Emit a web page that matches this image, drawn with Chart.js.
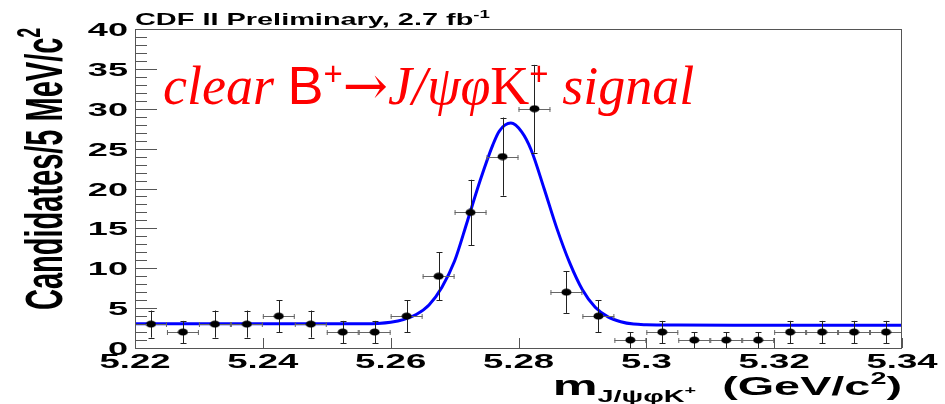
<!DOCTYPE html>
<html>
<head>
<meta charset="utf-8">
<script src="https://cdn.jsdelivr.net/npm/chart.js@4.4.1/dist/chart.umd.min.js"></script>
<style>
  html, body { margin: 0; padding: 0; background: #fff; }
  #wrap { width: 945px; height: 404px; }
</style>
</head>
<body>
<div id="wrap"><canvas id="massChart" width="945" height="404"></canvas></div>
<script>
// 5 MeV bins of the J/psi phi K+ invariant mass
const binCenters = [5.2225, 5.2275, 5.2325, 5.2375, 5.2425, 5.2475, 5.2525, 5.2575,
  5.2625, 5.2675, 5.2725, 5.2775, 5.2825, 5.2875, 5.2925, 5.2975,
  5.3025, 5.3075, 5.3125, 5.3175, 5.3225, 5.3275, 5.3325, 5.3375];
const candidates = [3, 2, 3, 3, 4, 3, 2, 2, 4, 9, 17, 24, 30, 7, 4, 1, 2, 1, 1, 1, 2, 2, 2, 2];
const candErrors = [1.7, 1.4, 1.7, 1.7, 2.0, 1.7, 1.4, 1.4, 2.0, 3.0, 4.1, 4.9, 5.5, 2.6, 2.0, 1.0,
  1.4, 1.0, 1.0, 1.0, 1.4, 1.4, 1.4, 1.4];
const halfBin = 0.0025;

// fitted signal + background curve
const fitMass = [5.22, 5.24, 5.25, 5.256, 5.258, 5.26, 5.262, 5.264, 5.266, 5.268, 5.27,
  5.272, 5.274, 5.276, 5.277, 5.2788, 5.2805, 5.282, 5.284, 5.286, 5.288, 5.29, 5.292, 5.294,
  5.296, 5.298, 5.3, 5.305, 5.32, 5.34];
const fitValues = [3.05, 3.05, 3.05, 3.05, 3.08, 3.22, 3.55, 4.2, 5.4, 7.6, 10.9,
  15.9, 21.0, 25.5, 27.2, 28.2, 27.1, 24.8, 20.0, 15.0, 10.7, 7.3, 5.1, 3.9,
  3.3, 3.0, 2.92, 2.88, 2.86, 2.85];

const xTicks = [5.22, 5.24, 5.26, 5.28, 5.3, 5.32, 5.34];
const xTickLabels = ['5.22', '5.24', '5.26', '5.28', '5.3', '5.32', '5.34'];
const yMajorTicks = [0, 5, 10, 15, 20, 25, 30, 35, 40];
const yTickLabels = ['0', '5', '10', '15', '20', '25', '30', '35', '40'];

const SANS = '"Liberation Sans", Arial, sans-serif';
const SERIF = '"Liberation Serif", "Times New Roman", serif';

// flattened black dot used as marker
const dot = document.createElement('canvas');
dot.width = 11; dot.height = 8;
(function () {
  const c = dot.getContext('2d');
  c.fillStyle = '#000';
  c.beginPath();
  c.ellipse(5.5, 4, 5, 3.6, 0, 0, Math.PI * 2);
  c.fill();
})();

// draws runs of text with their own font / vertical offset, starting at local x=0
function richWidth(ctx, parts) {
  let w = 0;
  parts.forEach(p => { ctx.font = p.font; w += ctx.measureText(p.text).width; });
  return w;
}
function drawRich(ctx, parts) {
  let x = 0;
  parts.forEach(p => {
    ctx.font = p.font;
    ctx.fillText(p.text, x, p.dy || 0);
    x += ctx.measureText(p.text).width;
  });
}

const errorBars = {
  id: 'errorBars',
  afterDatasetDraw(chart, args) {
    if (args.index !== 1) return;
    const { ctx, scales: { x, y } } = chart;
    ctx.save();
    ctx.lineWidth = 1;
    binCenters.forEach((m, i) => {
      const px = Math.round(x.getPixelForValue(m)) + 0.5;
      const py = Math.round(y.getPixelForValue(candidates[i])) + 0.5;
      const x0 = x.getPixelForValue(m - halfBin), x1 = x.getPixelForValue(m + halfBin);
      const y0 = y.getPixelForValue(candidates[i] - candErrors[i]);
      const y1 = y.getPixelForValue(candidates[i] + candErrors[i]);
      ctx.strokeStyle = '#666';
      ctx.beginPath();
      ctx.moveTo(x0, py); ctx.lineTo(x1, py);
      ctx.moveTo(x0 + 0.5, py - 2.5); ctx.lineTo(x0 + 0.5, py + 2.5);
      ctx.moveTo(x1 - 0.5, py - 2.5); ctx.lineTo(x1 - 0.5, py + 2.5);
      ctx.stroke();
      ctx.strokeStyle = '#222';
      ctx.beginPath();
      ctx.moveTo(px, y0); ctx.lineTo(px, y1);
      ctx.moveTo(px - 3, Math.round(y0) + 0.5); ctx.lineTo(px + 3, Math.round(y0) + 0.5);
      ctx.moveTo(px - 3, Math.round(y1) + 0.5); ctx.lineTo(px + 3, Math.round(y1) + 0.5);
      ctx.stroke();
    });
    ctx.restore();
  }
};

const frameAndLabels = {
  id: 'frameAndLabels',
  afterDraw(chart) {
    const { ctx, chartArea: a, scales: { x, y } } = chart;
    ctx.save();
    // frame
    ctx.strokeStyle = '#555';
    ctx.lineWidth = 1;
    ctx.strokeRect(a.left + 0.5, a.top + 0.5, a.right - a.left - 1, a.bottom - a.top);

    // y ticks: major every 5, minor every 1
    ctx.beginPath();
    for (let v = 0; v <= 40; v++) {
      const py = Math.round(y.getPixelForValue(v)) + 0.5;
      const len = v % 5 === 0 ? 22 : 12;
      ctx.moveTo(a.left, py); ctx.lineTo(a.left + len, py);
    }
    // x ticks
    xTicks.forEach(m => {
      const px = Math.round(x.getPixelForValue(m)) + 0.5;
      ctx.moveTo(px, a.bottom); ctx.lineTo(px, a.bottom - 10);
    });
    ctx.stroke();

    ctx.fillStyle = '#000';
    ctx.textBaseline = 'alphabetic';
    // y tick labels
    yMajorTicks.forEach((v, i) => {
      const py = y.getPixelForValue(v);
      ctx.save();
      ctx.translate(a.left - 7, py + 7);
      ctx.scale(1.9, 1);
      ctx.font = 'bold 19px ' + SANS;
      ctx.textAlign = 'right';
      ctx.fillText(yTickLabels[i], 0, 0);
      ctx.restore();
    });
    // x tick labels
    xTicks.forEach((m, i) => {
      ctx.save();
      ctx.translate(x.getPixelForValue(m), a.bottom + 20);
      ctx.scale(1.74, 1);
      ctx.font = 'bold 21px ' + SANS;
      ctx.textAlign = 'center';
      ctx.fillText(xTickLabels[i], 0, 0);
      ctx.restore();
    });
    ctx.textAlign = 'left';

    // header
    const head = [
      { text: 'CDF II Preliminary, 2.7 fb', font: 'bold 17px ' + SANS },
      { text: '-1', font: 'bold 11px ' + SANS, dy: -7 }
    ];
    ctx.save();
    ctx.translate(a.left, 25);
    ctx.scale(1.7, 1);
    drawRich(ctx, head);
    ctx.restore();

    // x title, right aligned at the axis end
    const xTitle = [
      { text: 'm', font: 'bold 28px ' + SANS },
      { text: 'J/\u03c8\u03c6K', font: 'bold 16px ' + SANS, dy: 7 },
      { text: '+', font: 'bold 11px ' + SANS, dy: -1 },
      { text: '  (GeV/c', font: 'bold 26px ' + SANS },
      { text: '2', font: 'bold 16px ' + SANS, dy: -11 },
      { text: ')', font: 'bold 26px ' + SANS }
    ];
    ctx.save();
    const sx = 1.8;
    ctx.translate(a.right - richWidth(ctx, xTitle) * sx, 395);
    ctx.scale(sx, 1);
    drawRich(ctx, xTitle);
    ctx.restore();

    // y title, rotated
    const yTitle = [
      { text: 'Candidates/5 MeV/c', font: 'bold 29px ' + SANS },
      { text: '2', font: 'bold 18px ' + SANS, dy: -12 }
    ];
    ctx.save();
    ctx.translate(62, 310);
    ctx.rotate(-Math.PI / 2);
    ctx.scale(1, 1.8);
    drawRich(ctx, yTitle);
    ctx.restore();

    // signal annotation
    const note = [
      { text: 'clear ', font: 'italic 54px ' + SERIF },
      { text: 'B', font: '54px ' + SANS },
      { text: '+', font: '33px ' + SANS, dy: -19 },
      { text: '\u2192', font: '54px "DejaVu Serif", serif' },
      { text: 'J/\u03c8\u03c6', font: 'italic 54px ' + SERIF },
      { text: 'K', font: '54px ' + SERIF },
      { text: '+', font: '33px ' + SANS, dy: -19 },
      { text: ' signal', font: 'italic 54px ' + SERIF }
    ];
    ctx.fillStyle = '#ff0000';
    ctx.save();
    ctx.translate(163, 104);
    drawRich(ctx, note);
    ctx.restore();
    ctx.restore();
  }
};

new Chart(document.getElementById('massChart'), {
  data: {
    datasets: [
      {
        type: 'scatter',
        label: 'data',
        data: binCenters.map((m, i) => ({ x: m, y: candidates[i] })),
        pointStyle: dot,
        order: 0
      },
      {
        type: 'line',
        label: 'fit',
        data: fitMass.map((m, i) => ({ x: m, y: fitValues[i] })),
        borderColor: '#0000ff',
        borderWidth: 3,
        pointRadius: 0,
        cubicInterpolationMode: 'monotone',
        fill: false,
        order: 1
      }
    ]
  },
  options: {
    responsive: false,
    animation: false,
    devicePixelRatio: 1,
    layout: { padding: { left: 135, right: 43, top: 29, bottom: 56 } },
    plugins: { legend: { display: false }, tooltip: { enabled: false } },
    scales: {
      x: { type: 'linear', min: 5.22, max: 5.34, display: false },
      y: { type: 'linear', min: 0, max: 40, display: false }
    }
  },
  plugins: [errorBars, frameAndLabels]
});
</script>
</body>
</html>
